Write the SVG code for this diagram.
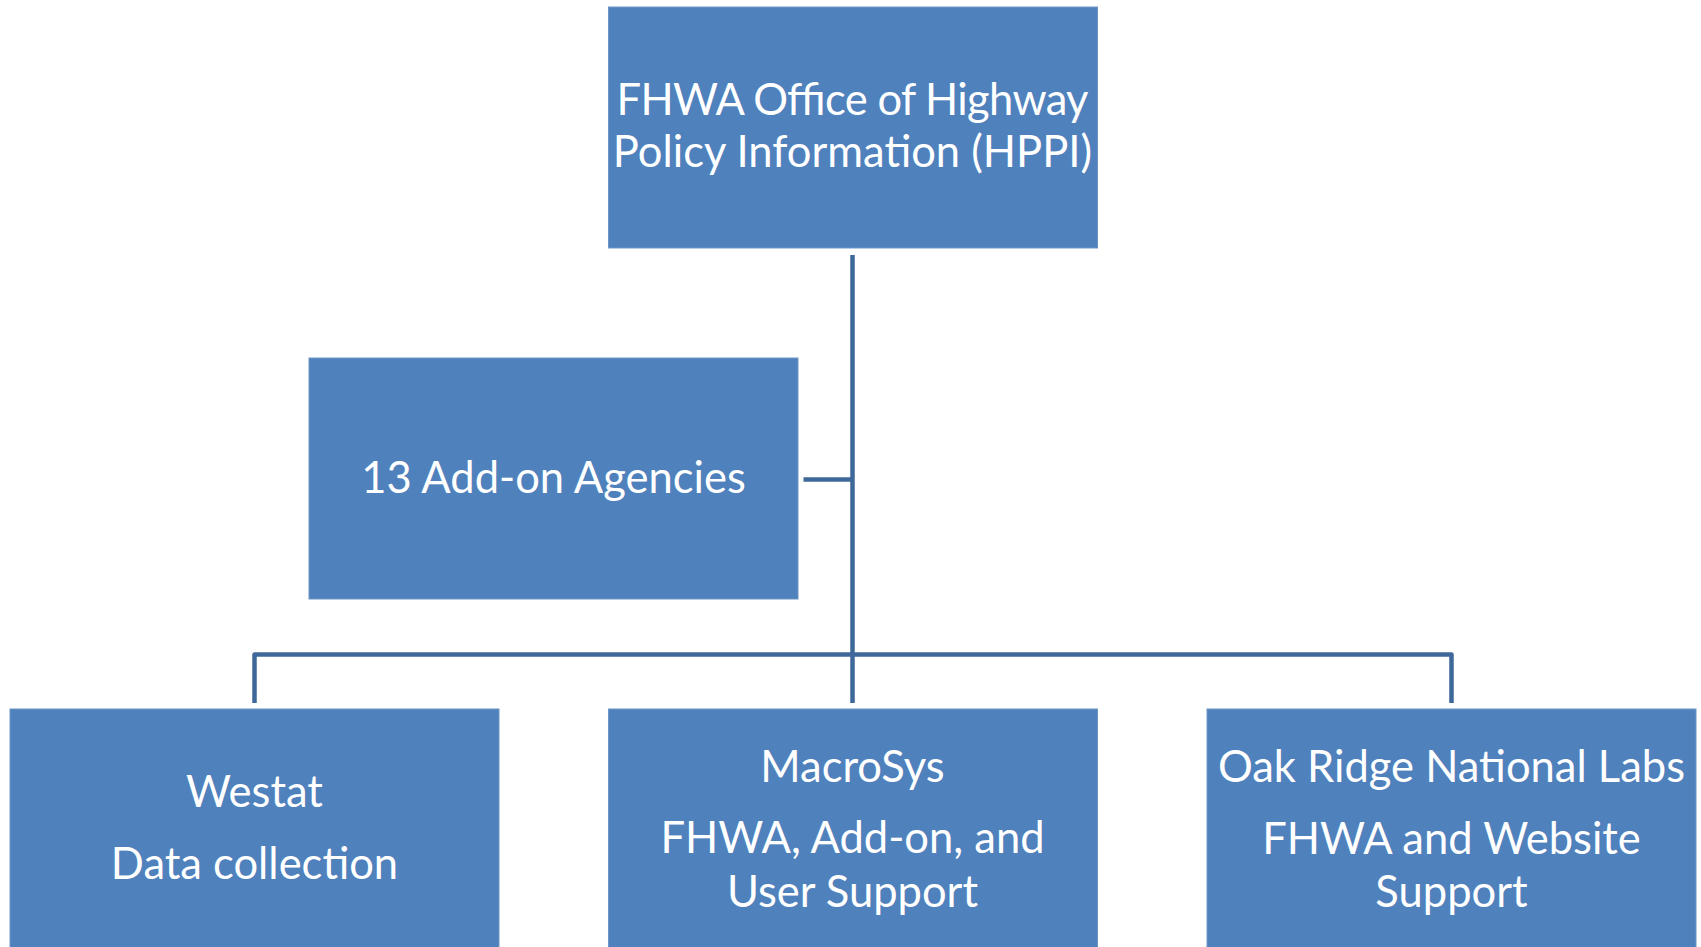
<svg xmlns="http://www.w3.org/2000/svg" width="1701" height="947" viewBox="0 0 1701 947">
<style>
.box{fill:#4F81BD;stroke:#6F95C6;stroke-width:1}
.t{font-family:Lato,"Liberation Sans",sans-serif;font-size:43.5px;fill:#FFFFFF;text-anchor:middle}
.c{fill:none;stroke:#3E6899;stroke-width:4.5;stroke-linejoin:round}
</style>
<rect width="1701" height="947" fill="#FFFFFF"/>
<g id="connectors">
<path class="c" d="M852.5,255 V703"/>
<path class="c" d="M803.5,479.5 H852.5"/>
<path class="c" d="M254.5,703 V654.5 H1451.5 V703"/>
</g>
<g id="hppi">
<rect class="box" x="608.5" y="7" width="489" height="241"/>
<text class="t" x="852.5" y="115" textLength="472">FHWA Office of Highway</text>
<text class="t" x="852.5" y="166.7">Policy Information (HPPI)</text>
</g>
<g id="addon">
<rect class="box" x="309" y="358" width="489" height="241"/>
<text class="t" x="553.5" y="493.3">13 Add-on Agencies</text>
</g>
<g id="westat">
<rect class="box" x="10" y="709" width="489" height="250"/>
<text class="t" x="254.5" y="806.7">Westat</text>
<text class="t" x="254.5" y="879.3">Data collection</text>
</g>
<g id="macrosys">
<rect class="box" x="608.5" y="709" width="489" height="250"/>
<text class="t" x="852.5" y="781.7">MacroSys</text>
<text class="t" x="852.5" y="853">FHWA, Add-on, and</text>
<text class="t" x="852.5" y="906.7">User Support</text>
</g>
<g id="oakridge">
<rect class="box" x="1207" y="709" width="489" height="250"/>
<text class="t" x="1451.5" y="781.7">Oak Ridge National Labs</text>
<text class="t" x="1451.5" y="854">FHWA and Website</text>
<text class="t" x="1451.5" y="906.7">Support</text>
</g>
</svg>
